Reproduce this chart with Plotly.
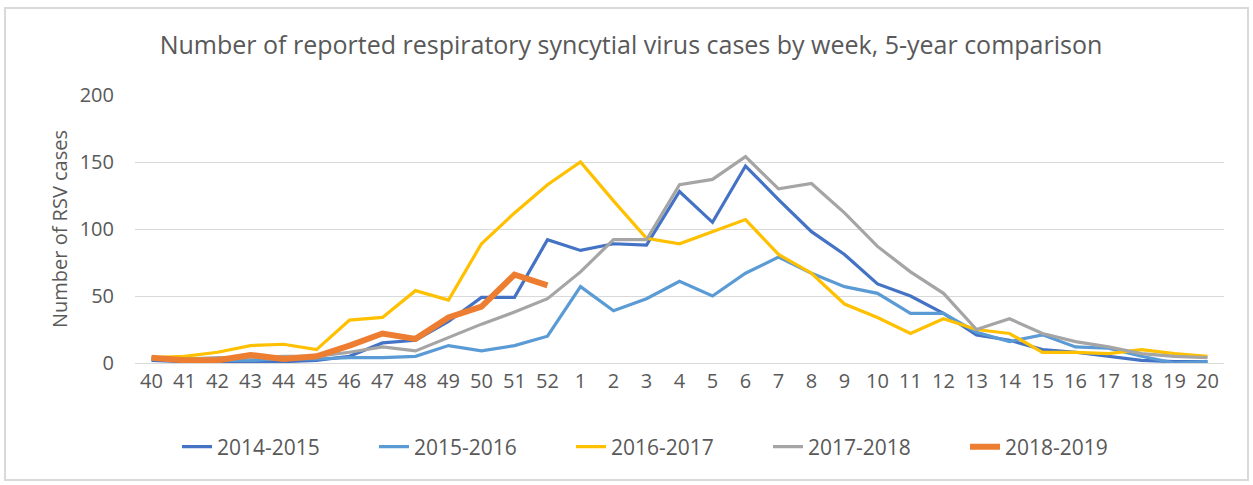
import plotly.graph_objects as go

weeks = [str(w) for w in list(range(40, 53)) + list(range(1, 21))]

s2014_2015 = [2, 1, 1, 0, 1, 2, 5, 15, 17, 31, 49, 49, 92, 84, 89, 88, 128, 105, 147, 122, 98, 81, 59, 50, 37, 21, 17, 10, 8, 5, 2, 1, 1]
s2015_2016 = [3, 2, 2, 2, 3, 3, 4, 4, 5, 13, 9, 13, 20, 57, 39, 48, 61, 50, 67, 79, 67, 57, 52, 37, 37, 23, 16, 21, 12, 11, 5, 0, 1]
s2016_2017 = [4, 5, 8, 13, 14, 10, 32, 34, 54, 47, 89, 112, 133, 150, 121, 93, 89, 98, 107, 81, 67, 44, 34, 22, 33, 25, 22, 8, 8, 7, 10, 7, 5]
s2017_2018 = [4, 3, 4, 4, 5, 5, 8, 12, 9, 19, 29, 38, 48, 68, 92, 92, 133, 137, 154, 130, 134, 112, 87, 68, 52, 25, 33, 22, 16, 12, 7, 5, 4]
s2018_2019 = [4, 2, 2, 6, 3, 5, 13, 22, 18, 34, 42, 66, 58]

series = [
    ("2014-2015", s2014_2015, "#4472C4", 3.2),
    ("2015-2016", s2015_2016, "#5B9BD5", 3.2),
    ("2016-2017", s2016_2017, "#FFC000", 3.2),
    ("2017-2018", s2017_2018, "#A5A5A5", 3.2),
    ("2018-2019", s2018_2019, "#ED7D31", 6),
]

fig = go.Figure()
for name, vals, color, width in series:
    fig.add_trace(go.Scatter(
        x=weeks[:len(vals)], y=vals, name=name, mode="lines",
        line=dict(color=color, width=width),
    ))

L, R, T, B = 135, 29, 95, 122
W, H = 1253, 485
pw, ph = W - L - R, H - T - B

def px_x(px):
    return (px - L) / pw

def px_y(py):
    return (H - B - py) / ph

fig.add_shape(type="rect", xref="paper", yref="paper",
              x0=px_x(5), x1=px_x(1248), y0=px_y(480), y1=px_y(8),
              line=dict(color="#D9D9D9", width=2), fillcolor="rgba(0,0,0,0)", layer="below")

fig.update_layout(
    width=W, height=H,
    margin=dict(l=L, r=R, t=T, b=B),
    paper_bgcolor="white", plot_bgcolor="white",
    font=dict(family="Open Sans, sans-serif", color="#595959"),
    title=dict(text="Number of reported respiratory syncytial virus cases by week, 5-year comparison",
               x=631 / W, xref="container", xanchor="center",
               y=1 - 45 / H, yref="container", yanchor="middle",
               font=dict(size=25, color="#595959", family="Open Sans, sans-serif")),
    xaxis=dict(type="category", categoryorder="array", categoryarray=weeks,
               range=[-0.5, len(weeks) - 0.5], showgrid=False, showline=True,
               linecolor="#D9D9D9", linewidth=1, ticks="",
               tickfont=dict(size=20, color="#595959"), ticklen=0, automargin=False),
    yaxis=dict(range=[0, 200], tickvals=[0, 50, 100, 150, 200], showgrid=True,
               gridcolor="#D9D9D9", gridwidth=1, zeroline=False, showline=False,
               ticks="", tickfont=dict(size=20, color="#595959"), ticklabelstandoff=20,
               title=dict(text="Number of RSV cases", font=dict(size=20, color="#595959"),
                          standoff=6),
               automargin=False),
    legend=dict(orientation="h", xref="container", yref="container",
                x=177 / W, xanchor="left", y=1 - 447 / H, yanchor="middle",
                font=dict(size=21, color="#595959"),
                entrywidth=152, entrywidthmode="pixels",
                bgcolor="rgba(0,0,0,0)"),
    showlegend=True,
)

fig.write_html("out.html", config={"displayModeBar": False},
               post_script="document.body.style.margin='0';")
